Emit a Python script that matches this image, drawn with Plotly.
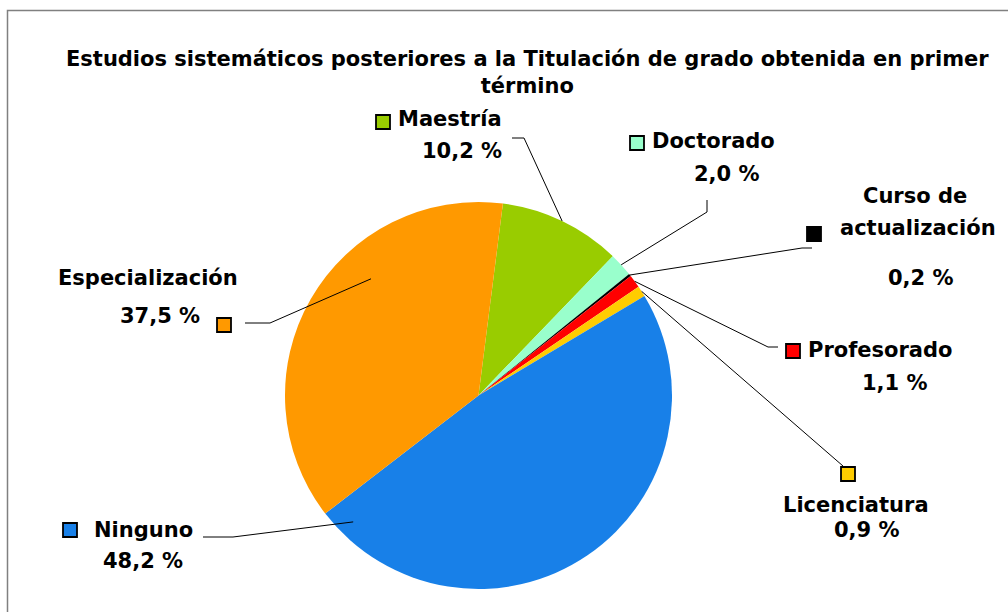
import math
import plotly.graph_objects as go

# ---- data ----
categories = ["Maestría", "Doctorado", "Curso de actualización", "Profesorado",
              "Licenciatura", "Ninguno", "Especialización"]
values = [10.2, 2.0, 0.2, 1.1, 0.9, 48.2, 37.5]
value_labels = ["10,2 %", "2,0 %", "0,2 %", "1,1 %", "0,9 %", "48,2 %", "37,5 %"]
colors = ["#99CC00", "#99FFCC", "#000000", "#FF0000", "#FFCC00", "#1880E8", "#FF9900"]
title_text = "Estudios sistemáticos posteriores a la Titulación de grado obtenida en primer<br>término"

# ---- layout config (pixels) ----
W, H = 1008, 612
CX, CY, R = 478.5, 395.5, 193.5
ROT = 7.25
FONT = "DejaVu Sans"
FS = 21

# per slice: anchor (fraction along slice, radius fraction), elbow path, name lines, value pos, marker
label_cfg = {
    "Maestría": dict(anchor=(0.5, 1.0), path=[(524, 138), (512, 138)],
                     names=[("Maestría", 450, 119)], val=(462, 151), sq=(383, 122)),
    "Doctorado": dict(anchor=(0.5, 1.0), path=[(707, 212), (707, 200)],
                      names=[("Doctorado", 713, 141)], val=(727, 174), sq=(637, 143)),
    "Curso de actualización": dict(anchor=(0.5, 1.0), path=[(802, 248), (812, 248)],
                                   names=[("Curso de", 915, 196), ("actualización", 918, 228)],
                                   val=(921, 278), sq=(814, 234)),
    "Profesorado": dict(anchor=(0.5, 1.0), path=[(768, 347), (778, 347)],
                        names=[("Profesorado", 880, 350)], val=(895, 383), sq=(793, 351)),
    "Licenciatura": dict(anchor=(0.5, 1.0), path=[(843, 466)],
                         names=[("Licenciatura", 856, 505)], val=(867, 530), sq=(848, 474)),
    "Ninguno": dict(anchor=(0.956, 0.92), path=[(233, 537), (203, 537)],
                    names=[("Ninguno", 143, 530)], val=(143, 561), sq=(70, 530)),
    "Especialización": dict(anchor=(0.63, 0.82), path=[(270, 323), (245, 323)],
                            names=[("Especialización", 148, 278)], val=(160, 316), sq=(224, 325)),
}

fig = go.Figure()
fig.add_trace(go.Pie(
    labels=categories, values=values, sort=False, direction="clockwise",
    rotation=ROT, textinfo="none", hoverinfo="label+percent", showlegend=False,
    marker=dict(colors=colors, line=dict(width=0)),
    domain=dict(x=[(CX - R) / W, (CX + R) / W], y=[1 - (CY + R) / H, 1 - (CY - R) / H]),
))

total = sum(values)
shapes = []
annotations = []
cum = 0.0
for cat, v, vl, col in zip(categories, values, value_labels, colors):
    cfg = label_cfg[cat]
    frac, rf = cfg["anchor"]
    ang = math.radians(ROT + 360.0 * (cum + frac * v) / total)
    ax = CX + rf * R * math.sin(ang)
    ay = CY - rf * R * math.cos(ang)
    pts = [(ax, ay)] + cfg["path"]
    path = "M " + " L ".join(f"{x:.1f},{y:.1f}" for x, y in pts)
    shapes.append(dict(type="path", xref="x", yref="y", path=path,
                       line=dict(color="#000000", width=1)))
    sx, sy = cfg["sq"]
    shapes.append(dict(type="rect", xref="x", yref="y", x0=sx - 7, x1=sx + 7, y0=sy - 7, y1=sy + 7,
                       fillcolor=col, line=dict(color="#000000", width=1.8)))
    for txt, tx, ty in cfg["names"]:
        annotations.append(dict(text=f"<b>{txt}</b>", x=tx, y=ty, xref="x", yref="y",
                                showarrow=False, xanchor="center", yanchor="middle",
                                font=dict(family=FONT, size=FS, color="#000000")))
    vx, vy = cfg["val"]
    annotations.append(dict(text=f"<b>{vl}</b>", x=vx, y=vy, xref="x", yref="y",
                            showarrow=False, xanchor="center", yanchor="middle",
                            font=dict(family=FONT, size=FS, color="#000000")))
    cum += v

# frame
shapes.append(dict(type="path", xref="x", yref="y", path=f"M 7.5,{H} L 7.5,10.5 L {W},10.5",
                   line=dict(color="#808080", width=1.5)))

annotations.append(dict(text=f"<b>{title_text}</b>", x=527, y=72, xref="x", yref="y",
                        showarrow=False, xanchor="center", yanchor="middle",
                        font=dict(family=FONT, size=FS, color="#000000")))

fig.update_layout(
    width=W, height=H, autosize=False,
    margin=dict(l=0, r=0, t=0, b=0),
    paper_bgcolor="#FFFFFF", plot_bgcolor="rgba(0,0,0,0)",
    xaxis=dict(range=[0, W], visible=False, fixedrange=True),
    yaxis=dict(range=[H, 0], visible=False, fixedrange=True),
    shapes=shapes, annotations=annotations,
)

fig.write_html("out.html", config={"displayModeBar": False},
               post_script="document.body.style.margin='0px';")
